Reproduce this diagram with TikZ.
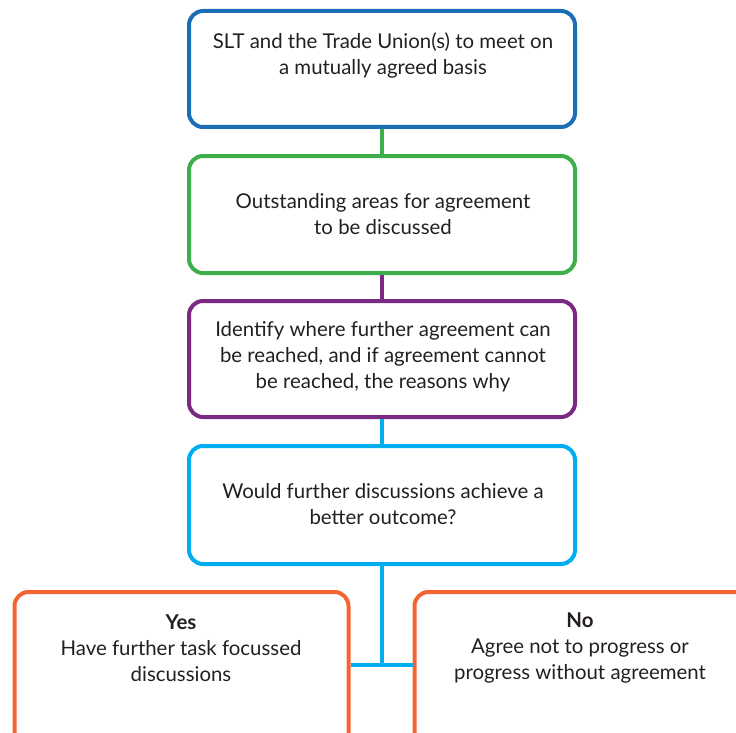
\documentclass[tikz,border=0pt]{standalone}
\usepackage{fontspec}
\setmainfont{Lato}
\definecolor{cblue}{HTML}{1B6DB5}
\definecolor{cgreen}{HTML}{3DAE4A}
\definecolor{cpurple}{HTML}{7A2A82}
\definecolor{clblue}{HTML}{00AEEF}
\definecolor{corange}{HTML}{F26532}
\definecolor{ctext}{HTML}{231F20}
\tikzset{
  box/.style={draw=#1, line width=4pt, rounded corners=14pt, rectangle, inner sep=0pt},
  txt/.style={text=ctext, font=\fontsize{20.4}{26}\selectfont, align=center, inner sep=0pt},
  link/.style={draw=#1, line width=4pt}
}
\begin{document}
\begin{tikzpicture}[x=1pt,y=-1pt]
\useasboundingbox (0,0) rectangle (736,733);
% boxes
\node[box=cblue, minimum width=386pt, minimum height=116pt] (b1) at (382,69) {};
\node[box=cgreen, minimum width=386pt, minimum height=117pt] (b2) at (382,214.5) {};
\node[box=cpurple, minimum width=386pt, minimum height=116pt] (b3) at (382,359) {};
\node[box=clblue, minimum width=386pt, minimum height=118pt] (b4) at (382,505) {};
\node[box=corange, minimum width=334pt, minimum height=180pt] (yes) at (181.5,682) {};
\node[box=corange, minimum width=340pt, minimum height=180pt] (no) at (584.5,682) {};
% texts
\node[txt] (t1) at (383,55) {SLT and the Trade Union(s) to meet on\\a mutually agreed basis};
\node[txt] (t2) at (383,214) {Outstanding areas for agreement\\to be discussed};
\node[txt] (t3) at (383,357) {Identify where further agreement can\\be reached, and if agreement cannot\\be reached, the reasons why};
\node[txt] (t4) at (383,504) {Would further discussions achieve a\\better outcome?};
\node[txt] (t5) at (181,648) {\textbf{Yes}\\Have further task focussed\\discussions};
\node[txt] (t6) at (580,648) {\textbf{No}\\Agree not to progress or\\progress without agreement};
% connectors
\coordinate (j) at (b4.south |- 0,665);
\draw[link=cgreen] (b1.south) -- (b2.north);
\draw[link=cpurple] (b2.south) -- (b3.north);
\draw[link=clblue] (b3.south) -- (b4.north);
\draw[link=clblue] (b4.south) -- (j);
\draw[link=clblue] (yes.east |- j) -- (no.west |- j);
\end{tikzpicture}
\end{document}
